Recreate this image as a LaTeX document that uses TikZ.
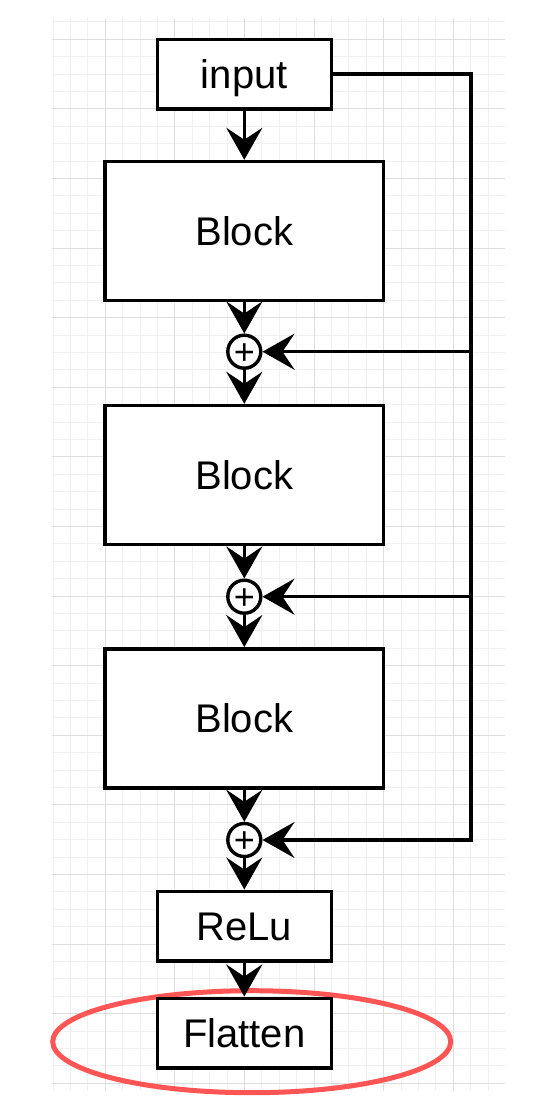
\documentclass[tikz,border=0pt]{standalone}
\usepackage{fontspec}
\setmainfont{Liberation Sans}
\usetikzlibrary{arrows.meta,shapes.geometric}
\definecolor{gridminor}{RGB}{240,240,240}
\definecolor{gridmajor}{RGB}{222,222,222}
\definecolor{markred}{RGB}{255,85,85}
\begin{document}
\begin{tikzpicture}[x=1pt,y=-1pt,
  box/.style={draw, line width=3.4pt, fill=white, inner sep=0pt,
    font=\fontsize{40}{48}\selectfont, text height=28.6pt, text depth=0pt},
  smallbox/.style={box, minimum width=174pt, minimum height=69.6pt},
  bigbox/.style={box, minimum width=278.4pt, minimum height=139pt},
  sumnode/.style={circle, draw, line width=3.4pt, fill=white, minimum size=33pt,
    inner sep=0pt, font=\fontsize{36}{36}\selectfont},
  flow/.style={line width=3.4pt, line join=miter,
    -{Stealth[length=32pt, width=36pt, inset=12pt]}},
  highlight/.style={ellipse, draw=markred, line width=5pt, inner sep=0pt},
]
\useasboundingbox (0,0) rectangle (546,1102);
\fill[white] (0,0) rectangle (546,1102);

% background grid
\foreach \i in {0,...,25}
  \draw[gridminor, line width=1pt] ({53.1+17.4*\i},18.3) -- ({53.1+17.4*\i},1090.7);
\foreach \i in {0,...,61}
  \draw[gridminor, line width=1pt] (51.7,{21.9+17.4*\i}) -- (505,{21.9+17.4*\i});
\foreach \i in {0,...,5}
  \draw[gridmajor, line width=1pt] ({105.3+69.6*\i},18.3) -- ({105.3+69.6*\i},1090.7);
\foreach \i in {0,...,15}
  \draw[gridmajor, line width=1pt] (51.7,{39.3+69.6*\i}) -- (505,{39.3+69.6*\i});

% highlight around the last layer
\node[highlight, minimum width=398pt, minimum height=102pt] (mark) at (251.7,1041.7) {};

% layers
\node[smallbox] (in)   at (244.3,74.1)  {input};
\node[bigbox]   (b1)   at (244.3,231)   {Block};
\node[sumnode]  (s1)   at (244.3,351.7) {\raisebox{-0.116em}[0.465em][0pt]{+}};
\node[bigbox]   (b2)   at (244.3,475)   {Block};
\node[sumnode]  (s2)   at (244.3,596.7) {\raisebox{-0.116em}[0.465em][0pt]{+}};
\node[bigbox]   (b3)   at (244.3,718.3) {Block};
\node[sumnode]  (s3)   at (244.3,840)   {\raisebox{-0.116em}[0.465em][0pt]{+}};
\node[smallbox] (relu) at (244.3,926)   {ReLu};
\node[smallbox] (flat) at (244.3,1033)  {Flatten};

\coordinate (railend) at (471,840);

% main path
\draw[flow] (in) -- (b1);
\draw[flow] (b1) -- (s1);
\draw[flow] (s1) -- (b2);
\draw[flow] (b2) -- (s2);
\draw[flow] (s2) -- (b3);
\draw[flow] (b3) -- (s3);
\draw[flow] (s3) -- (relu);
\draw[flow] (relu) -- (flat);

% skip connections from the input
\draw[flow] (in.east) -| (railend) -- (s3);
\draw[flow] (s1 -| railend) -- (s1);
\draw[flow] (s2 -| railend) -- (s2);
\end{tikzpicture}
\end{document}
